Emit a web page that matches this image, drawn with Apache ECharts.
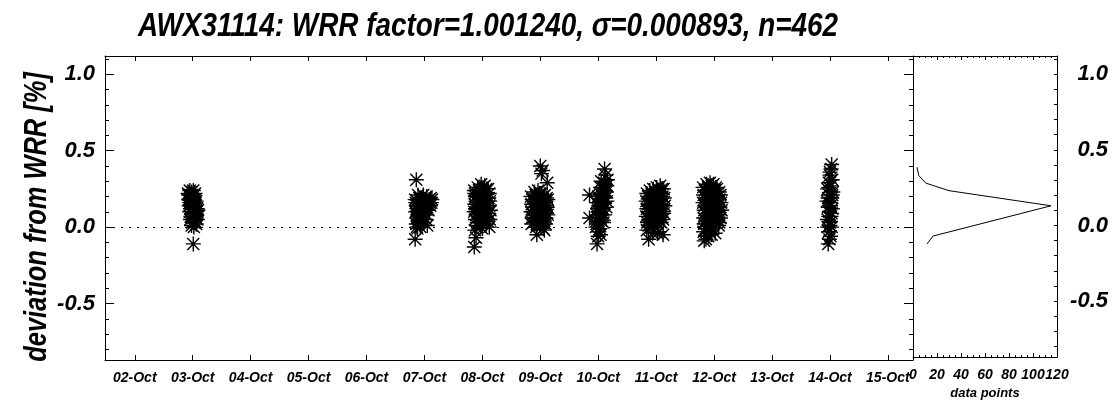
<!DOCTYPE html>
<html>
<head>
<meta charset="utf-8">
<script src="https://cdn.jsdelivr.net/npm/echarts/dist/echarts.min.js"></script>
<style>
  html, body { margin: 0; padding: 0; background: #fff; }
  #chart { width: 1115px; height: 405px; }
</style>
</head>
<body>
<div id="chart"></div>
<script>
// ---------- data ----------
const titleText = 'AWX31114: WRR factor=1.001240, \u03c3=0.000893, n=462';
const yAxisTitle = 'deviation from WRR [%]';
const histAxisTitle = 'data points';

// day-of-month tick positions and their labels
const dateTicks = [2, 3, 4, 5, 6, 7, 8, 9, 10, 11, 12, 13, 14, 15];
const dateLabels = ['02-Oct', '03-Oct', '04-Oct', '05-Oct', '06-Oct', '07-Oct', '08-Oct',
                    '09-Oct', '10-Oct', '11-Oct', '12-Oct', '13-Oct', '14-Oct', '15-Oct'];
const yMajorTicks = [-0.5, 0.0, 0.5, 1.0];
const yMinorTicks = [-0.8, -0.7, -0.6, -0.4, -0.3, -0.2, -0.1, 0.1, 0.2, 0.3, 0.4, 0.6, 0.7, 0.8, 0.9, 1.1];
const histTicks = [0, 20, 40, 60, 80, 100, 120];

// measurements: [day of October (fractional), deviation %]
const oct03 = [[2.92,0.22],[2.95,0.24],[2.98,0.23],[3.01,0.24],[3.04,0.22],[2.93,0.18],[2.97,0.19],
  [3.00,0.20],[3.03,0.18],[3.06,0.17],[2.94,0.14],[2.98,0.15],[3.02,0.13],[3.05,0.14],[3.08,0.12],
  [2.95,0.10],[2.99,0.09],[3.03,0.10],[3.07,0.08],[3.09,0.11],[2.96,0.05],[3.00,0.06],[3.04,0.04],
  [3.08,0.05],[2.98,0.01],[3.02,0.00],[3.06,0.02],[3.01,-0.11],
  [2.93,0.21],[2.96,0.21],[2.99,0.21],[3.02,0.21],[2.95,0.16],[2.99,0.17],[3.02,0.16],[3.05,0.16],
  [2.96,0.12],[3.00,0.12],[3.04,0.12],[3.07,0.10],[2.97,0.07],[3.01,0.08],[3.05,0.07],[2.99,0.03],
  [3.03,0.03],[3.06,0.06]];
const oct07 = [[6.86,0.31],[6.84,-0.08],[6.84,0.18],[6.86,0.14],[6.85,0.10],[6.87,0.06],[6.86,0.02],
  [6.88,-0.01],[6.89,0.21],[6.90,0.16],[6.91,0.11],[6.90,0.07],[6.92,0.03],[6.93,0.00],[6.94,0.19],
  [6.95,0.13],[6.96,0.08],[6.95,0.04],[6.98,0.21],[7.00,0.17],[7.02,0.13],[7.01,0.09],[7.03,0.05],
  [7.04,0.20],[7.06,0.15],[7.07,0.11],[7.08,0.18],[7.10,0.14],[7.11,0.19],[7.12,0.16],[7.05,0.01],[6.99,0.03],
  [6.85,0.16],[6.87,0.12],[6.88,0.08],[6.89,0.04],[6.87,0.00],[6.91,0.19],[6.92,0.14],[6.93,0.09],
  [6.94,0.05],[6.97,0.15],[6.98,0.11],[6.99,0.18],[7.01,0.14],[7.03,0.17],[7.05,0.13],[7.09,0.16],
  [7.13,0.18],[7.04,0.08]];
const oct08 = [[7.86,-0.13],[7.89,-0.07],[7.87,-0.02],[7.86,0.24],[7.88,0.20],[7.87,0.15],[7.86,0.10],
  [7.88,0.05],[7.90,0.01],[7.92,0.26],[7.93,0.21],[7.92,0.16],[7.94,0.12],[7.93,0.07],[7.95,0.03],
  [7.98,0.28],[7.99,0.23],[7.98,0.18],[8.00,0.13],[7.99,0.08],[8.01,0.04],[8.00,-0.01],[8.04,0.27],
  [8.05,0.22],[8.04,0.17],[8.06,0.12],[8.05,0.07],[8.07,0.02],[8.10,0.25],[8.11,0.19],[8.12,0.14],
  [8.11,0.09],[8.13,0.05],[8.12,0.00],
  [7.87,0.22],[7.89,0.17],[7.88,0.12],[7.89,0.08],[7.91,0.03],[7.94,0.24],[7.95,0.19],[7.96,0.14],
  [7.95,0.09],[7.97,0.05],[7.97,0.00],[8.01,0.26],[8.02,0.20],[8.02,0.15],[8.03,0.10],[8.03,0.05],
  [8.07,0.25],[8.08,0.19],[8.08,0.14],[8.09,0.09],[8.09,0.04],[8.12,0.22],[8.13,0.17],[8.14,0.11]];
const oct09 = [[9.00,0.40],[9.04,0.37],[9.02,0.35],[9.12,0.29],[8.84,0.20],[8.85,0.15],[8.84,0.10],
  [8.86,0.06],[8.85,0.02],[8.90,0.23],[8.91,0.18],[8.90,0.13],[8.92,0.08],[8.91,0.04],[8.93,0.00],
  [8.96,0.24],[8.97,0.19],[8.96,0.14],[8.98,0.10],[8.97,0.05],[8.99,0.01],[8.94,-0.05],[9.02,0.22],
  [9.03,0.17],[9.02,0.12],[9.04,0.07],[9.03,0.03],[9.05,-0.01],[9.08,0.21],[9.09,0.16],[9.08,0.11],
  [9.10,0.06],[9.09,0.02],[9.13,0.18],[9.12,0.13],[9.13,0.08],
  [8.86,0.18],[8.87,0.13],[8.87,0.08],[8.88,0.03],[8.92,0.21],[8.93,0.16],[8.94,0.11],[8.94,0.06],
  [8.95,0.02],[8.99,0.22],[9.00,0.17],[9.00,0.12],[9.01,0.07],[9.00,0.02],[9.05,0.20],[9.06,0.14],
  [9.06,0.09],[9.07,0.04],[9.11,0.19],[9.11,0.14],[9.11,0.09],[9.07,-0.02]];
const oct10 = [[9.85,0.21],[9.85,0.06],[10.11,0.38],[10.13,0.34],[9.98,-0.11],[10.04,-0.05],
  [9.96,0.00],[9.97,0.04],[9.98,0.08],[9.99,0.12],[9.97,0.16],[10.00,0.20],[10.01,-0.03],[10.02,0.02],
  [10.03,0.06],[10.04,0.10],[10.05,0.14],[10.06,0.18],[10.07,0.22],[10.08,0.26],[10.10,0.29],
  [10.12,0.24],[10.13,0.19],[10.14,0.13],[10.11,0.08],[10.15,0.27],[10.16,0.31],[10.09,0.03],
  [9.97,0.02],[9.99,0.06],[10.00,0.10],[10.01,0.14],[10.02,0.18],[10.03,0.22],[10.04,0.26],[10.05,0.30],
  [10.00,-0.06],[10.03,-0.01],[10.06,0.04],[10.07,0.08],[10.08,0.12],[10.09,0.16],[10.10,0.20],
  [10.11,0.24],[10.12,0.28],[10.14,0.23],[10.15,0.17]];
const oct11 = [[10.84,0.22],[10.83,0.17],[10.84,0.12],[10.83,0.07],[10.85,0.03],[10.84,-0.02],
  [10.89,0.24],[10.90,0.19],[10.89,0.14],[10.91,0.09],[10.90,0.04],[10.91,0.00],[10.87,-0.08],
  [10.95,0.25],[10.96,0.20],[10.95,0.15],[10.97,0.10],[10.96,0.05],[10.97,0.01],[11.01,0.26],
  [11.02,0.21],[11.01,0.16],[11.03,0.11],[11.02,0.06],[11.03,0.02],[11.02,-0.04],[11.07,0.27],
  [11.08,0.22],[11.07,0.17],[11.09,0.12],[11.08,0.07],[11.09,0.03],[11.13,0.25],[11.14,0.19],
  [11.15,0.14],[11.13,0.09],[11.12,-0.05],
  [10.86,0.20],[10.86,0.15],[10.86,0.10],[10.87,0.05],[10.87,0.01],[10.92,0.22],[10.92,0.17],
  [10.93,0.12],[10.93,0.07],[10.94,0.03],[10.98,0.23],[10.99,0.18],[10.99,0.13],[11.00,0.08],
  [11.00,0.03],[11.04,0.24],[11.05,0.19],[11.05,0.14],[11.06,0.09],[11.06,0.04],[11.10,0.25],
  [11.11,0.20],[11.11,0.15],[11.11,0.10],[11.12,0.05],[11.05,-0.03],[10.94,-0.04]];
const oct12 = [[11.81,0.26],[11.82,0.21],[11.81,0.16],[11.83,0.11],[11.82,0.06],[11.83,0.02],
  [11.82,-0.03],[11.83,-0.09],[11.87,0.28],[11.88,0.23],[11.87,0.18],[11.89,0.13],[11.88,0.08],
  [11.89,0.04],[11.88,-0.01],[11.90,-0.06],[11.93,0.29],[11.94,0.24],[11.93,0.19],[11.95,0.14],
  [11.94,0.09],[11.95,0.05],[11.94,0.00],[11.99,0.28],[12.00,0.23],[11.99,0.18],[12.01,0.13],
  [12.00,0.08],[12.01,0.03],[12.02,-0.04],[12.05,0.25],[12.06,0.20],[12.05,0.15],[12.07,0.10],
  [12.06,0.05],[12.08,0.01],[12.11,0.21],[12.12,0.16],[12.13,0.11],[12.11,0.06],
  [11.84,0.24],[11.85,0.19],[11.84,0.14],[11.85,0.09],[11.85,0.04],[11.85,-0.01],[11.90,0.26],
  [11.91,0.21],[11.91,0.16],[11.91,0.11],[11.92,0.06],[11.92,0.02],[11.96,0.27],[11.97,0.22],
  [11.97,0.17],[11.97,0.12],[11.98,0.07],[11.97,0.02],[11.96,-0.05],[12.03,0.26],[12.03,0.21],
  [12.03,0.16],[12.04,0.11],[12.04,0.06],[12.09,0.23],[12.09,0.18],[12.10,0.13],[12.09,0.08],
  [12.09,0.03],[11.86,-0.08]];
const oct14 = [[14.03,0.41],[14.02,0.38],[14.00,0.34],[14.04,0.31],[13.98,0.29],[14.02,0.27],
  [13.96,0.25],[14.05,0.23],[13.99,0.21],[14.03,0.19],[13.95,0.17],[14.01,0.16],[13.97,0.13],
  [14.04,0.12],[13.99,0.10],[14.02,0.07],[13.96,0.05],[14.00,0.03],[14.03,0.00],[13.98,-0.03],
  [14.01,-0.06],[13.97,-0.11],
  [14.00,0.36],[13.98,0.26],[14.04,0.21],[13.97,0.19],[14.01,0.14],[14.03,0.09],[13.98,0.07],
  [14.00,0.01],[13.96,0.00],[13.99,-0.08]];

// histogram of deviations (right panel): counts and bin values
const histCounts = [3.3, 4.8, 10.6, 30, 115, 16.7, 11.7];
const histValues = [0.385, 0.33, 0.28, 0.23, 0.13, -0.07, -0.122];

// ---------- chart ----------
const FAMILY = 'Liberation Sans';
const txt = (size) => ({ fontFamily: FAMILY, fontStyle: 'italic', fontWeight: 'bold', fontSize: size, color: '#000' });
const black = { lineStyle: { color: '#000', width: 1 } };
const Y_MIN = -0.87, Y_MAX = 1.12;
const X_MIN = 1.486, X_MAX = 15.434;

const allPoints = [].concat(oct03, oct07, oct08, oct09, oct10, oct11, oct12, oct14);
const histData = histCounts.map((c, i) => [c, histValues[i]]);

const chart = echarts.init(document.getElementById('chart'), null, { renderer: 'canvas' });

const line = (extra) => Object.assign({ show: true, onZero: false }, black, extra || {});

const option = {
  animation: false,
  backgroundColor: '#fff',
  graphic: [
    { type: 'text', x: 488, y: 27, scaleX: 0.82, style: { text: titleText, textAlign: 'center', textVerticalAlign: 'middle', fill: '#000',
        font: 'italic bold 34px "' + FAMILY + '"' } },
    { type: 'text', x: 37, y: 217, rotation: Math.PI / 2, scaleX: 0.82, style: {
        text: yAxisTitle, textAlign: 'center', textVerticalAlign: 'middle', fill: '#000',
        font: 'italic bold 31px "' + FAMILY + '"' } }
  ],
  grid: [
    { left: 105, top: 56, width: 808, height: 304 },
    { left: 913, top: 56, width: 144, height: 304 }
  ],
  xAxis: [
    { gridIndex: 0, type: 'value', position: 'bottom', min: X_MIN, max: X_MAX,
      axisLine: line(), splitLine: { show: false },
      axisTick: { show: true, inside: true, length: 5, customValues: dateTicks, lineStyle: { color: '#000' } },
      axisLabel: Object.assign({ show: true, margin: 11, customValues: dateTicks,
        formatter: (v) => dateLabels[dateTicks.indexOf(Math.round(v))] || '' }, txt(14)) },
    { gridIndex: 0, type: 'value', position: 'top', min: X_MIN, max: X_MAX,
      axisLine: line(), splitLine: { show: false },
      axisTick: { show: true, inside: true, length: 5, customValues: dateTicks, lineStyle: { color: '#000' } },
      axisLabel: { show: false } },
    { gridIndex: 1, type: 'value', position: 'bottom', min: 0, max: 120, interval: 20,
      axisLine: line(), splitLine: { show: false },
      axisTick: { show: true, inside: true, length: 4, lineStyle: { color: '#000' } },
      minorTick: { show: true, splitNumber: 4, length: 2, lineStyle: { color: '#000' } },
      axisLabel: Object.assign({ show: true, margin: 11, customValues: histTicks }, txt(14)),
      name: histAxisTitle, nameLocation: 'middle', nameGap: 29, nameTextStyle: txt(13) },
    { gridIndex: 1, type: 'value', position: 'top', min: 0, max: 120, interval: 20,
      axisLine: line(), splitLine: { show: false },
      axisTick: { show: true, inside: true, length: 4, lineStyle: { color: '#000' } },
      minorTick: { show: true, splitNumber: 4, length: 2, lineStyle: { color: '#000' } },
      axisLabel: { show: false } }
  ],
  yAxis: [
    { gridIndex: 0, type: 'value', position: 'left', min: Y_MIN, max: Y_MAX,
      axisLine: line(), splitLine: { show: false },
      axisTick: { show: true, inside: true, length: 9, customValues: yMajorTicks, lineStyle: { color: '#000' } },
      axisLabel: Object.assign({ show: true, margin: 10, customValues: yMajorTicks,
        formatter: (v) => v.toFixed(1) }, txt(22)) },
    { gridIndex: 0, type: 'value', position: 'left', min: Y_MIN, max: Y_MAX,
      axisLine: { show: false, onZero: false }, splitLine: { show: false },
      axisTick: { show: true, inside: true, length: 4, customValues: yMinorTicks, lineStyle: { color: '#000' } },
      axisLabel: { show: false } },
    { gridIndex: 0, type: 'value', position: 'right', min: Y_MIN, max: Y_MAX,
      axisLine: line(), splitLine: { show: false },
      axisTick: { show: true, inside: true, length: 9, customValues: yMajorTicks, lineStyle: { color: '#000' } },
      axisLabel: { show: false } },
    { gridIndex: 0, type: 'value', position: 'right', min: Y_MIN, max: Y_MAX,
      axisLine: { show: false, onZero: false }, splitLine: { show: false },
      axisTick: { show: true, inside: true, length: 4, customValues: yMinorTicks, lineStyle: { color: '#000' } },
      axisLabel: { show: false } },
    { gridIndex: 1, type: 'value', position: 'right', min: Y_MIN, max: Y_MAX,
      axisLine: line(), splitLine: { show: false },
      axisTick: { show: true, inside: true, length: 3, customValues: yMajorTicks.concat(yMinorTicks), lineStyle: { color: '#000' } },
      axisLabel: Object.assign({ show: true, margin: 51, align: 'right', customValues: yMajorTicks,
        formatter: (v) => v.toFixed(1) }, txt(22)) }
  ],
  series: [
    { type: 'scatter', xAxisIndex: 0, yAxisIndex: 0, data: allPoints,
      symbol: 'path://M0,-1L0,1M-1,0L1,0M-0.8,-0.8L0.8,0.8M-0.8,0.8L0.8,-0.8',
      symbolSize: 15,
      itemStyle: { color: 'rgba(0,0,0,0)', borderColor: '#000', borderWidth: 1.4, opacity: 1 },
      emphasis: { disabled: true }, silent: true,
      markLine: { silent: true, symbol: ['none', 'none'], label: { show: false },
        lineStyle: { color: '#000', width: 1, type: [2, 6] },
        data: [{ yAxis: 0 }] } },
    { type: 'line', xAxisIndex: 2, yAxisIndex: 4, data: histData, showSymbol: false,
      lineStyle: { color: '#000', width: 1 }, silent: true }
  ]
};
chart.setOption(option);
</script>
</body>
</html>
